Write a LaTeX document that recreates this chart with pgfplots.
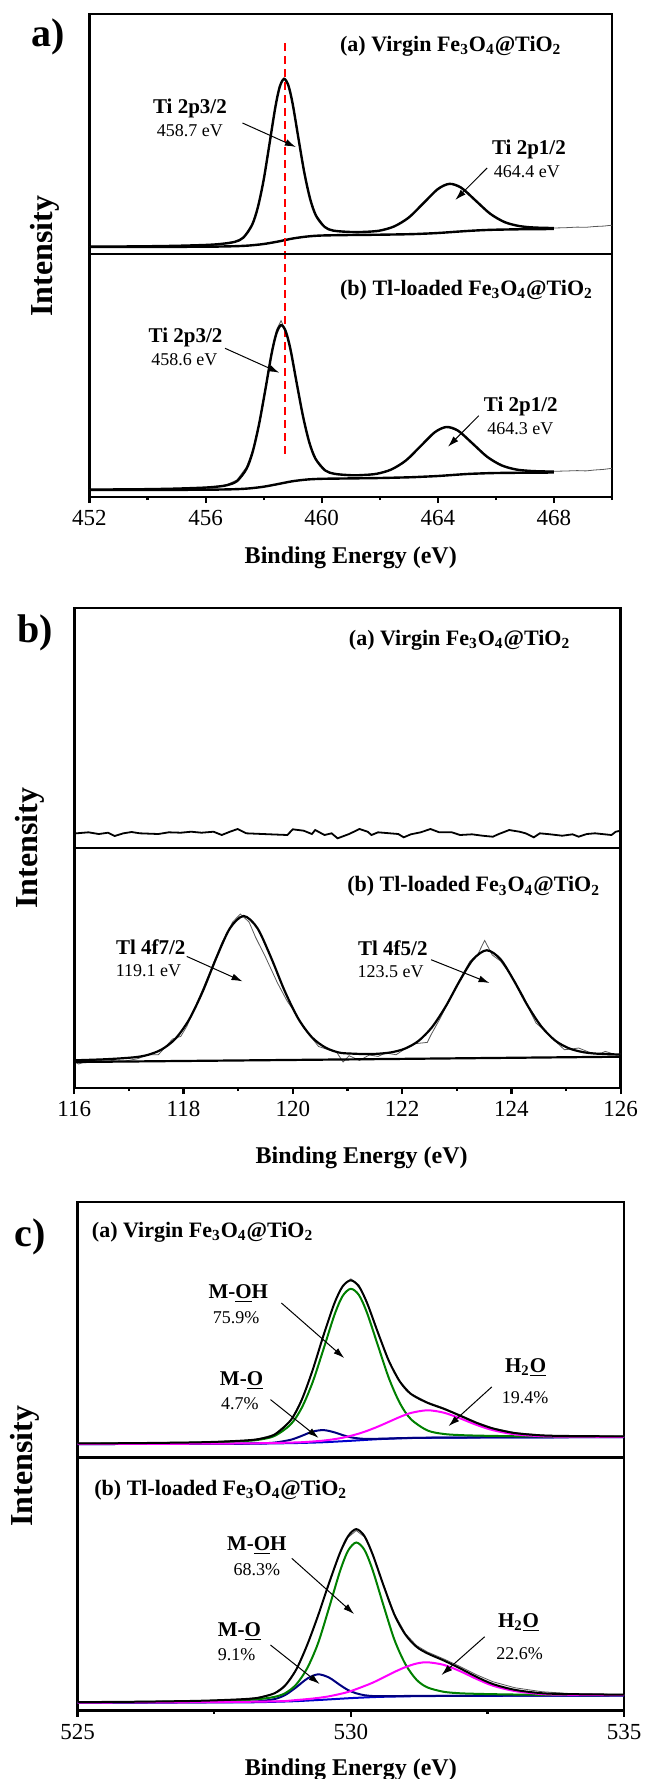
\documentclass[border=0pt]{standalone}
\usepackage{fontspec}
\setmainfont{Liberation Serif}
\usepackage{pgfplots}
\pgfplotsset{compat=1.18}
\usetikzlibrary{arrows.meta}
\definecolor{fitgreen}{HTML}{008000}
\definecolor{fitmag}{HTML}{FF00FF}
\definecolor{fitnavy}{HTML}{000080}
\definecolor{fitblue}{HTML}{0000CD}
\definecolor{rawgray}{gray}{0.35}
\pgfplotsset{
  xps/.style={
    scale only axis,
    axis line style={line width=1.4pt},
    ytick=\empty,
    ymin=0,
    tick style={line width=1.1pt,black},
    tick align=outside,
    major tick length=3pt,
    minor tick length=1.6pt,
    xtick pos=bottom,
    /pgf/number format/assume math mode=true,
    xticklabel style={font=\fontsize{11.5}{13}\selectfont},
    xlabel style={font=\fontsize{12}{14}\selectfont\bfseries, anchor=base},
  },
  upper/.style={xtick=\empty, xticklabels={}, minor xtick={}},
  env/.style={black, line width=1.2pt, smooth, no marks},
  raw/.style={rawgray, line width=0.4pt, no marks},
}
\newcommand{\ttl}{\fontsize{11}{13}\selectfont\bfseries}
\newcommand{\pk}{\fontsize{10.5}{12}\selectfont\bfseries}
\newcommand{\vl}{\fontsize{9}{11}\selectfont}
\tikzset{arr/.style={-{Latex[length=5.5pt,width=3.4pt]}, line width=0.5pt, black}}
\begin{document}
\begin{tikzpicture}
\useasboundingbox (0,0) rectangle (322pt,-889.5pt);
% ================= panel a ==================
\begin{axis}[xps, upper, at={(44.75pt,-127pt)}, anchor=south west,
  width=261.25pt, height=120pt, xmin=452, xmax=470, ymax=240, clip=false]
\addplot[raw] coordinates {(452,7.6) (453,7.3) (454,7.9) (455,8.0) (456,9.3) (456.5,9.8) (457,12.6) (457.3,16.0) (457.6,30) (457.8,46) (458.0,75) (458.2,109) (458.4,147) (458.55,167.5) (458.7,176) (458.85,168) (459.0,151) (459.2,115) (459.4,82) (459.6,55) (459.8,39) (460.1,27.5) (460.4,23) (461,22.3) (461.5,21.9) (462,23.6) (462.5,27.4) (463,36.8) (463.5,50.4) (464,65.3) (464.4,70.5) (464.8,66) (465.3,53.8) (465.8,40) (466.3,32.2) (466.8,27.8) (467.3,26.7) (468,26.0) (468.4,26.3) (468.8,26.9) (469.1,26.7) (469.4,27.5) (469.7,27.9) (470,28.8)};
\addplot[env] coordinates {(452,7) (454,7.1) (456,7.3) (457,7.8) (457.5,8.5) (458,10) (458.5,12.5) (459,15.5) (459.5,17.5) (460,18.5) (461,19) (462,19.3) (463,19.8) (463.5,20.3) (464,21) (464.5,22) (465,23) (465.5,23.8) (466,24.3) (467,24.8) (468,25)};
\addplot[env] coordinates {(452,7.4) (453,7.5) (454,7.75) (455,8.2) (456,9.05) (456.5,10.0) (457,12.1) (457.3,16.4) (457.6,29.05) (457.8,46.75) (458.0,74.15) (458.2,110) (458.4,146.4) (458.55,166.9) (458.7,175.1) (458.85,168.7) (459.0,150) (459.2,115.4) (459.4,81.4) (459.6,55.2) (459.8,38.55) (460.1,27.1) (460.4,23.4) (461,22.0) (461.5,22.15) (462,23.4) (462.5,27.65) (463,36.5) (463.5,50.7) (464,64.9) (464.4,70.15) (464.8,66.4) (465.3,53.5) (465.8,40.35) (466.3,31.9) (466.8,28.0) (467.3,26.5) (468,25.95)};
\addplot[red, line width=1pt, dash pattern=on 4pt off 2.5pt] coordinates {(458.73,211) (458.73,-201)};
\node[anchor=base west, inner sep=0] at (axis cs:460.62,203) {\ttl (a) Virgin Fe\textsubscript{3}O\textsubscript{4}@TiO\textsubscript{2}};
\node[anchor=base, inner sep=0] at (axis cs:455.46,141) {\pk Ti 2p3/2};
\node[anchor=base, inner sep=0] at (axis cs:455.46,118) {\vl 458.7 eV};
\draw[arr] (axis cs:457.27,131) -- (axis cs:459.11,107);
\node[anchor=base, inner sep=0] at (axis cs:467.14,100) {\pk Ti 2p1/2};
\node[anchor=base, inner sep=0] at (axis cs:467.07,77) {\vl 464.4 eV};
\draw[arr] (axis cs:465.7,86) -- (axis cs:464.6,54);
\end{axis}
\begin{axis}[xps, at={(44.75pt,-248.5pt)}, anchor=south west,
  width=261.25pt, height=121.5pt, xmin=452, xmax=470, ymax=243,
  xtick={452,456,...,468}, minor xtick={454,458,...,470},
  xlabel={Binding Energy (eV)}, xlabel style={at={(axis description cs:0.5,-0.273)}}]
\addplot[raw] coordinates {(452,7.5) (453,7.4) (454,8.0) (455,8.3) (456,9.6) (456.5,11.0) (456.75,12.6) (457.08,17.0) (457.41,30.0) (457.625,47) (457.84,74) (458.06,109) (458.275,145) (458.44,167) (458.6,176.3) (458.76,166) (458.925,147) (459.14,113) (459.36,80.5) (459.575,54) (459.79,38.5) (460.12,26.8) (460.45,23.0) (461,22.0) (461.4,21.7) (461.9,23.5) (462.4,27.3) (462.9,36.8) (463.4,50.5) (463.9,65.2) (464.3,70.3) (464.7,66) (465.2,53.6) (465.7,40) (466.2,31.9) (466.7,27.3) (467.2,26.3) (467.7,25.7) (468,25.7) (468.4,26.0) (468.8,26.4) (469.1,26.1) (469.4,27.0) (469.7,27.6) (470,28.7)};
\addplot[env] coordinates {(452,7) (454,7.1) (456,7.3) (457,7.8) (457.5,8.6) (458,10.3) (458.5,13) (459,15.8) (459.5,17.5) (460,18.2) (461,18.6) (462,19) (463,19.7) (463.5,20.3) (464,21) (464.5,22) (465,23) (465.5,23.6) (466,24) (467,24.3) (468,24.5)};
\addplot[env] coordinates {(452,7.4) (453,7.6) (454,7.85) (455,8.4) (456,9.45) (456.5,10.7) (456.75,11.95) (457.08,15.9) (457.41,28.25) (457.625,45.55) (457.84,72.65) (458.06,107.7) (458.275,143.6) (458.44,163.7) (458.6,171.9) (458.76,165.75) (458.925,147.45) (459.14,113.6) (459.36,80.1) (459.575,54.35) (459.79,38.05) (460.12,26.55) (460.45,23.15) (461,21.8) (461.4,21.95) (461.9,23.25) (462.4,27.55) (462.9,36.5) (463.4,50.7) (463.9,64.85) (464.3,70.0) (464.7,66.25) (465.2,53.4) (465.7,40.2) (466.2,31.6) (466.7,27.5) (467.2,26.05) (467.7,25.55) (468,25.45)};
\node[anchor=base west, inner sep=0] at (axis cs:460.62,201.7) {\ttl (b) Tl-loaded Fe\textsubscript{3}O\textsubscript{4}@TiO\textsubscript{2}};
\node[anchor=base, inner sep=0] at (axis cs:455.31,154.3) {\pk Ti 2p3/2};
\node[anchor=base, inner sep=0] at (axis cs:455.27,131.3) {\vl 458.6 eV};
\draw[arr] (axis cs:456.67,148.7) -- (axis cs:458.54,124.3);
\node[anchor=base, inner sep=0] at (axis cs:466.86,85.3) {\pk Ti 2p1/2};
\node[anchor=base, inner sep=0] at (axis cs:466.84,63) {\vl 464.3 eV};
\draw[arr] (axis cs:465.41,81.3) -- (axis cs:464.35,50.3);
\end{axis}
\node[anchor=center, font=\fontsize{20}{22}\selectfont\bfseries] at (24pt,-18.5pt) {a)};
\node[rotate=90, anchor=base, font=\fontsize{16}{18}\selectfont\bfseries] at (26.2pt,-128pt) {Intensity};
% ================= panel b ==================
\begin{axis}[xps, upper, at={(37.1pt,-424pt)}, anchor=south west,
  width=273.25pt, height=120pt, xmin=116, xmax=126, ymax=240]
\addplot[black, line width=0.9pt, no marks] coordinates {(116.0,14.5) (116.26,15.7) (116.45,14.0) (116.62,15.3) (116.74,12.0) (116.90,14.7) (117.05,16.0) (117.20,14.7) (117.54,14.0) (117.73,15.7) (117.95,15.3) (118.14,16.3) (118.33,15.3) (118.55,16.3) (118.70,13.0) (118.85,16.3) (118.99,19.0) (119.15,14.7) (119.45,14.0) (119.90,13.0) (120.00,18.7) (120.20,17.3) (120.35,14.0) (120.41,18.0) (120.58,13.0) (120.71,14.7) (120.82,9.7) (121.03,14.0) (121.22,19.0) (121.37,16.3) (121.44,13.0) (121.56,15.7) (121.93,14.0) (122.03,10.7) (122.16,13.7) (122.34,15.7) (122.52,19.0) (122.68,15.7) (122.91,15.7) (123.06,13.0) (123.28,13.7) (123.47,12.3) (123.66,11.3) (123.77,14.0) (123.96,18.0) (124.15,16.3) (124.26,14.7) (124.41,10.7) (124.52,14.7) (124.71,13.7) (124.93,12.3) (125.12,13.7) (125.23,11.3) (125.38,14.0) (125.53,14.7) (125.83,13.0) (125.91,16.3) (126.0,17.3)};
\node[anchor=base west, inner sep=0] at (axis cs:121.02,202.7) {\ttl (a) Virgin Fe\textsubscript{3}O\textsubscript{4}@TiO\textsubscript{2}};
\end{axis}
\begin{axis}[xps, at={(37.1pt,-544pt)}, anchor=south west,
  width=273.25pt, height=120pt, xmin=116, xmax=126, ymax=240,
  xtick={116,118,...,126}, minor xtick={117,119,...,125},
  xlabel={Binding Energy (eV)}, xlabel style={at={(axis description cs:0.526,-0.314)}}]
\addplot[raw] coordinates {(116.0,26.5) (116.08,24.0) (116.25,27.0) (116.38,27.6) (116.6,28.0) (116.9,26.6) (117.16,29.3) (117.35,33.3) (117.54,33.3) (117.8,49.0) (117.95,51.6) (118.06,61.6) (118.3,92) (118.5,118) (118.7,145) (118.9,166) (119.04,174) (119.2,166) (119.32,150.6) (119.5,131) (119.72,105) (119.9,86.6) (120.05,75) (120.2,60) (120.35,50) (120.47,41.6) (120.65,38.3) (120.8,36) (120.92,26) (121.03,32.3) (121.22,27.6) (121.4,33) (121.56,31.6) (121.7,35) (121.89,33.3) (122.05,39) (122.23,44.3) (122.46,45.6) (122.53,53.3) (122.7,70) (122.9,92) (123.05,108) (123.24,126.6) (123.38,133) (123.51,147.6) (123.65,133) (123.8,127) (124.0,112.3) (124.22,91.6) (124.35,76) (124.45,65) (124.63,56.6) (124.8,47) (124.97,38.3) (125.1,39) (125.23,40) (125.46,35) (125.6,34) (125.72,36.6) (125.91,33.3) (126.0,34)};
\addplot[black, line width=1.1pt, no marks] coordinates {(116,26) (121,28.6) (126,31.3)};
\addplot[env, line width=1.1pt] coordinates {(116.0,27.7) (116.6,28.84) (117.1,30.73) (117.35,33.18) (117.6,38.52) (117.85,49.16) (118.1,68.21) (118.35,96.35) (118.6,130.1) (118.85,159.74) (119.1,171.99) (119.35,160.05) (119.6,130.71) (119.85,97.26) (120.1,69.42) (120.35,50.71) (120.6,40.39) (120.85,35.42) (121.1,34.35) (121.35,33.94) (121.55,34.24) (121.8,35.67) (122.05,39.35) (122.3,47.09) (122.55,61.02) (122.8,81.8) (123.05,106.78) (123.3,128.71) (123.55,137.75) (123.8,128.83) (124.05,107.01) (124.3,82.1) (124.55,61.4) (124.8,47.51) (125.05,39.79) (125.3,36.0) (125.55,34.4) (126.0,33.45)};
\node[anchor=base west, inner sep=0] at (axis cs:120.99,196.3) {\ttl (b) Tl-loaded Fe\textsubscript{3}O\textsubscript{4}@TiO\textsubscript{2}};
\node[anchor=base, inner sep=0] at (axis cs:117.40,133.3) {\pk Tl 4f7/2};
\node[anchor=base, inner sep=0] at (axis cs:117.36,112) {\vl 119.1 eV};
\draw[arr] (axis cs:118.06,131.6) -- (axis cs:119.08,106.6);
\node[anchor=base, inner sep=0] at (axis cs:121.83,132.3) {\pk Tl 4f5/2};
\node[anchor=base, inner sep=0] at (axis cs:121.79,110.6) {\vl 123.5 eV};
\draw[arr] (axis cs:122.53,128.3) -- (axis cs:123.6,105);
\end{axis}
\node[anchor=center, font=\fontsize{20}{22}\selectfont\bfseries] at (17.5pt,-316.5pt) {b)};
\node[rotate=90, anchor=base, font=\fontsize{16}{18}\selectfont\bfseries] at (18.8pt,-424pt) {Intensity};
% ================= panel c ==================
\begin{axis}[xps, upper, at={(38.8pt,-728.65pt)}, anchor=south west,
  width=273.2pt, height=125.15pt, xmin=525, xmax=535, ymax=250.3]
\addplot[raw] coordinates {(525,12.4) (525.3,13.8) (525.6,12.6) (526,13.5) (526.4,12.8) (527,14.2) (527.5,15.4) (528,16.0) (528.3,18.0) (528.6,22.4) (528.9,36.0) (529.1,56.5) (529.3,85.0) (529.5,120) (529.7,151.5) (529.85,168.5) (530.0,175) (530.15,169) (530.3,152) (530.5,122) (530.7,94.5) (530.9,74.5) (531.1,62.5) (531.4,54.2) (531.7,48.4) (532.0,41.6) (532.3,34.5) (532.6,28.8) (533.0,24.2) (533.5,21.8) (534,21.0) (535,20.7)};
\addplot[fitblue, line width=1pt, smooth, no marks] coordinates {(525,13) (528,13.3) (528.5,13.6) (529,14.0) (529.5,14.8) (530,16.2) (530.5,17.8) (531,18.8) (531.5,19.2) (532,19.4) (533,19.6) (535,19.8)};
\addplot[fitnavy, line width=1pt, smooth, no marks] coordinates {(525,13.02) (526,13.08) (527,13.16) (527.5,13.25) (528,13.47) (528.3,13.69) (528.6,14.41) (528.9,17.2) (529.1,21.0) (529.3,25.2) (529.5,26.7) (529.7,24.5) (529.85,21.8) (530.0,19.6) (530.15,18.5) (530.3,18.0) (530.5,18.2) (530.7,18.44) (530.9,18.8) (531.1,19.0) (531.4,19.2) (532,19.35) (533,19.55) (535,19.8)};
\addplot[fitgreen, line width=1pt, smooth, no marks] coordinates {(525,13.43) (526,13.74) (527,14.25) (527.5,14.79) (528,15.83) (528.3,17.1) (528.6,20.85) (528.9,32.3) (529.1,48.3) (529.3,73.4) (529.5,106) (529.7,139.5) (529.85,158.1) (530.0,165.2) (530.15,159) (530.3,141.2) (530.5,109) (530.7,77.2) (530.9,52.9) (531.1,37.4) (531.4,26.4) (531.7,22.9) (532.0,21.8) (532.3,21.3) (532.6,21.0) (533.0,20.65) (533.5,20.4) (534,20.35) (535,20.23)};
\addplot[fitmag, line width=1pt, smooth, no marks] coordinates {(525,13.1) (526,13.19) (527,13.3) (527.5,13.39) (528,13.62) (528.3,13.78) (528.6,14.01) (528.9,14.45) (529.1,14.8) (529.3,15.5) (529.5,16.4) (529.7,17.8) (529.85,19.2) (530.0,21.1) (530.15,23.3) (530.3,26.0) (530.5,30.2) (530.7,34.9) (530.9,39.6) (531.1,43.5) (531.4,46.1) (531.7,43.8) (532.0,38.2) (532.3,31.8) (532.6,26.65) (533.0,22.55) (533.5,20.7) (534,20.27) (535,20.1)};
\addplot[env, line width=1pt] coordinates {(525,13.55) (526,13.9) (527,14.5) (527.5,15.13) (528,16.32) (528.3,17.77) (528.6,22.17) (528.9,36.35) (529.1,56.1) (529.3,85.3) (529.5,119.5) (529.7,151) (529.85,167.5) (530.0,173.5) (530.15,167.4) (530.3,151) (530.5,121.8) (530.7,94.1) (530.9,74.1) (531.1,62.1) (531.4,53.5) (531.7,47.6) (532.0,40.8) (532.3,33.8) (532.6,28.3) (533.0,23.8) (533.5,21.5) (534,20.9) (535,20.5)};
\node[anchor=base west, inner sep=0] at (axis cs:525.255,215.3) {\ttl (a) Virgin Fe\textsubscript{3}O\textsubscript{4}@TiO\textsubscript{2}};
\node[anchor=base, inner sep=0] at (axis cs:527.94,155.6) {\pk M-\underline{O}H};
\node[anchor=base, inner sep=0] at (axis cs:527.9,131.6) {\vl 75.9\%};
\draw[arr] (axis cs:528.73,151.3) -- (axis cs:529.88,97.3);
\node[anchor=base, inner sep=0] at (axis cs:528.0,70.6) {\pk M-\underline{O}};
\node[anchor=base, inner sep=0] at (axis cs:527.97,46.6) {\vl 4.7\%};
\draw[arr] (axis cs:528.53,56.6) -- (axis cs:529.41,19);
\node[anchor=base, inner sep=0] at (axis cs:533.2,83.3) {\pk H\textsubscript{2}\underline{O}};
\node[anchor=base, inner sep=0] at (axis cs:533.19,52.3) {\vl 19.4\%};
\draw[arr] (axis cs:532.58,69) -- (axis cs:531.79,30.6);
\end{axis}
\begin{axis}[xps, at={(38.8pt,-855.35pt)}, anchor=south west,
  width=273.2pt, height=126.7pt, xmin=525, xmax=535, ymax=253.4,
  xtick={525,530,535}, minor xtick={527.5,532.5},
  xlabel={Binding Energy (eV)}, xlabel style={at={(axis description cs:0.5,-0.2545)}}]
\addplot[raw] coordinates {(525,8.3) (526,8.8) (527,9.5) (527.5,10.3) (528,11.6) (528.3,13.1) (528.6,17.6) (528.8,25.6) (529.0,41.3) (529.2,65.7) (529.4,95.3) (529.6,127.5) (529.8,157.4) (529.95,173.3) (530.1,180.2) (530.25,173.8) (530.4,156.5) (530.6,125.8) (530.8,96.8) (531.0,77.2) (531.2,65.3) (531.4,58.8) (531.7,51.8) (532.0,44.2) (532.3,36.0) (532.6,29.0) (533.0,23.0) (533.5,19.0) (534,17.2) (535,16.3)};
\addplot[fitblue, line width=1pt, smooth, no marks] coordinates {(525,8) (528,8.4) (528.5,8.8) (529,9.6) (529.5,11) (530,12.6) (530.5,13.8) (531,14.4) (531.5,14.7) (532,14.85) (533,15) (535,15.2)};
\addplot[fitnavy, line width=1pt, smooth, no marks] coordinates {(525,8.05) (526,8.18) (527,8.35) (527.5,8.54) (528,8.84) (528.3,9.42) (528.6,11.6) (528.8,15.75) (529.0,23.4) (529.2,32.0) (529.4,36.4) (529.6,33.2) (529.8,25.8) (529.95,20.65) (530.1,17.4) (530.25,15.5) (530.4,14.7) (530.6,14.57) (530.8,14.5) (531.0,14.75) (531.5,14.9) (532,14.95) (533,15.05) (535,15.25)};
\addplot[fitgreen, line width=1pt, smooth, no marks] coordinates {(525,8.4) (526,8.69) (527,9.25) (527.5,9.77) (528,10.6) (528.3,11.5) (528.6,13.8) (528.8,17.55) (529.0,26.2) (529.2,42.3) (529.4,67.4) (529.6,102.5) (529.8,139.1) (529.95,160) (530.1,168.2) (530.25,160.8) (530.4,140.6) (530.6,105) (530.8,70.7) (531.0,46.5) (531.2,31.15) (531.4,23.35) (531.7,18.95) (532.0,17.45) (532.3,16.9) (532.6,16.55) (533.0,16.2) (533.5,15.9) (534,15.75) (535,15.65)};
\addplot[fitmag, line width=1pt, smooth, no marks] coordinates {(525,8.13) (526,8.28) (527,8.47) (527.5,8.65) (528,8.84) (528.3,9.09) (528.6,9.34) (528.8,9.7) (529.0,10.65) (529.2,11.6) (529.4,12.8) (529.6,14.4) (529.8,16.7) (529.95,18.75) (530.1,21.6) (530.25,24.7) (530.4,28.0) (530.6,33.3) (530.8,38.8) (531.0,43.6) (531.2,47.15) (531.4,48.45) (531.7,45.85) (532.0,39.55) (532.3,31.8) (532.6,25.05) (533.0,19.7) (533.5,16.65) (534,15.95) (535,15.6)};
\addplot[env, line width=1pt] coordinates {(525,8.58) (526,8.95) (527,9.67) (527.5,10.36) (528,11.48) (528.3,12.91) (528.6,17.34) (528.8,25.3) (529.0,41.05) (529.2,65.5) (529.4,95.0) (529.6,127.3) (529.8,157.6) (529.95,174.55) (530.1,181.6) (530.25,174.6) (530.4,156.3) (530.6,125.1) (530.8,95.8) (531.0,76.05) (531.2,64.05) (531.4,57.4) (531.7,50.25) (532.0,42.35) (532.3,33.9) (532.6,26.7) (533.0,20.9) (533.5,17.5) (534,16.6) (535,16.05)};
\node[anchor=base west, inner sep=0] at (axis cs:525.3,215.4) {\ttl (b) Tl-loaded Fe\textsubscript{3}O\textsubscript{4}@TiO\textsubscript{2}};
\node[anchor=base, inner sep=0] at (axis cs:528.28,160.7) {\pk M-\underline{O}H};
\node[anchor=base, inner sep=0] at (axis cs:528.28,135.7) {\vl 68.3\%};
\draw[arr] (axis cs:528.92,152.4) -- (axis cs:530.06,96.7);
\node[anchor=base, inner sep=0] at (axis cs:527.96,74) {\pk M-\underline{O}};
\node[anchor=base, inner sep=0] at (axis cs:527.91,50) {\vl 9.1\%};
\draw[arr] (axis cs:528.53,65.7) -- (axis cs:529.43,26.7);
\node[anchor=base, inner sep=0] at (axis cs:533.07,83.4) {\pk H\textsubscript{2}\underline{O}};
\node[anchor=base, inner sep=0] at (axis cs:533.09,51.7) {\vl 22.6\%};
\draw[arr] (axis cs:532.45,74) -- (axis cs:531.66,35.7);
\end{axis}
\node[anchor=center, font=\fontsize{20}{22}\selectfont\bfseries] at (15pt,-618.35pt) {c)};
\node[rotate=90, anchor=base, font=\fontsize{16}{18}\selectfont\bfseries] at (16.35pt,-733pt) {Intensity};
\end{tikzpicture}
\end{document}
